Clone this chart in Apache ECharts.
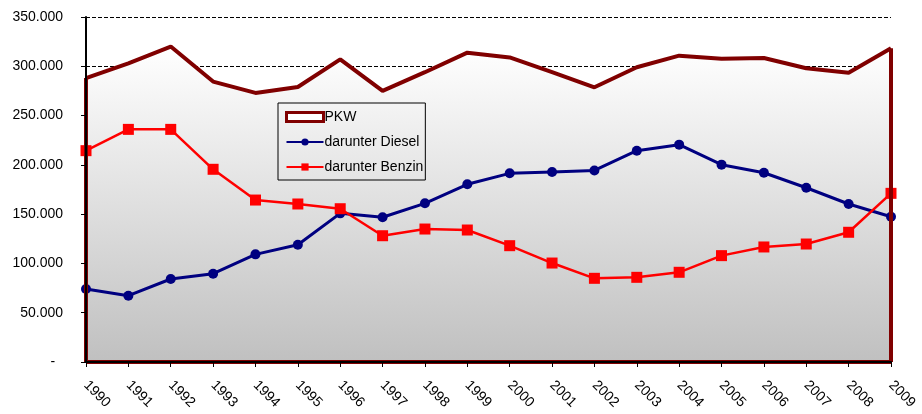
<!DOCTYPE html>
<html>
<head>
<meta charset="utf-8">
<script src="https://cdn.jsdelivr.net/npm/echarts@6/dist/echarts.min.js"></script>
<style>
html,body{margin:0;padding:0;background:#fff;}
#c{width:922px;height:414px;}
</style>
</head>
<body>
<div id="c"></div>
<script>
var years = ['1990','1991','1992','1993','1994','1995','1996','1997','1998','1999','2000','2001','2002','2003','2004','2005','2006','2007','2008','2009'];
var pkw = [288000,303000,320000,284500,273000,279000,307000,275000,294000,313800,309000,294000,278700,299000,310800,307700,308400,298000,293500,318200];
var diesel = [74000,67300,84200,89600,109200,119000,150800,146800,161000,180300,191400,192800,194300,214400,220500,200200,192000,176800,160300,147400];
var benzin = [214400,236000,236000,195500,164300,160300,155500,128100,134900,133900,118000,100400,84900,85900,91000,107900,116700,119700,131600,171100];
var yTicks = [0,50000,100000,150000,200000,250000,300000,350000];

function fmt(v){
  if (v === 0) return '-  ';
  var s = String(Math.round(v));
  return s.replace(/\B(?=(\d{3})+(?!\d))/g, '.');
}

var chart = echarts.init(document.getElementById('c'), null, {renderer:'canvas'});
var FONT = 'Liberation Sans, Arial, sans-serif';
var last = years.length - 1;

chart.setOption({
  animation: false,
  backgroundColor: '#ffffff',
  grid: {left: 86, right: 31, top: 17, bottom: 52, containLabel: false},
  legend: {
    orient: 'vertical',
    left: 278, top: 103,
    padding: [7, 2, 6, 7],
    borderColor: '#000', borderWidth: 1,
    backgroundColor: 'transparent',
    itemWidth: 37, itemHeight: 9, itemGap: 11,
    textStyle: {fontFamily: FONT, fontSize: 14, color: '#000', padding: [0,0,0,-4]},
    data: [
      {name: 'PKW', icon: 'rect', itemStyle: {color: '#ffffff', borderColor: '#800000', borderWidth: 3}},
      {name: 'darunter Diesel'},
      {name: 'darunter Benzin'}
    ]
  },
  xAxis: {
    type: 'category',
    data: years,
    boundaryGap: false,
    z: 5,
    axisLine: {lineStyle: {color: '#000', width: 2}},
    axisTick: {show: true, alignWithLabel: true, length: 5, lineStyle: {color: '#000', width: 1}},
    axisLabel: {rotate: -45, margin: 21, fontFamily: FONT, fontSize: 14, color: '#000', interval: 0},
    splitLine: {show: false}
  },
  yAxis: [{
    type: 'value',
    min: 0, max: 350000, interval: 50000,
    axisLine: {show: false},
    axisTick: {show: false},
    axisLabel: {formatter: fmt, fontFamily: FONT, fontSize: 14, color: '#000', margin: 23},
    splitLine: {show: true, lineStyle: {color: '#000', type: [4, 2], width: 1}}
  },{
    type: 'value',
    min: 0, max: 350000, interval: 50000,
    position: 'left',
    z: 5,
    axisLine: {show: true, lineStyle: {color: '#000', width: 2}},
    axisTick: {show: true, length: 5, lineStyle: {color: '#000', width: 1}},
    axisLabel: {show: false},
    splitLine: {show: false}
  }],
  series: [
    {
      name: 'PKW',
      type: 'line',
      data: pkw,
      symbol: 'none',
      z: 1,
      lineStyle: {color: '#800000', width: 4},
      itemStyle: {color: '#800000'},
      areaStyle: {
        color: new echarts.graphic.LinearGradient(0, 0, 0, 1, [
          {offset: 0, color: '#ffffff'},
          {offset: 1, color: '#c0c0c0'}
        ]),
        opacity: 1
      },
      markLine: {
        silent: true,
        symbol: 'none',
        label: {show: false},
        lineStyle: {color: '#800000', width: 4, type: 'solid'},
        data: [
          [{coord: [years[0], 0]}, {coord: [years[0], pkw[0]]}],
          [{coord: [years[last], 0]}, {coord: [years[last], pkw[last]]}],
          [{coord: [years[0], 0]}, {coord: [years[last], 0]}]
        ]
      }
    },
    {
      name: 'darunter Diesel',
      type: 'line',
      data: diesel,
      symbol: 'circle',
      symbolSize: 10,
      z: 3,
      lineStyle: {color: '#000080', width: 3},
      itemStyle: {color: '#000080'}
    },
    {
      name: 'darunter Benzin',
      type: 'line',
      data: benzin,
      symbol: 'rect',
      symbolSize: 11,
      z: 4,
      lineStyle: {color: '#ff0000', width: 2.5},
      itemStyle: {color: '#ff0000'}
    }
  ]
});
</script>
</body>
</html>
